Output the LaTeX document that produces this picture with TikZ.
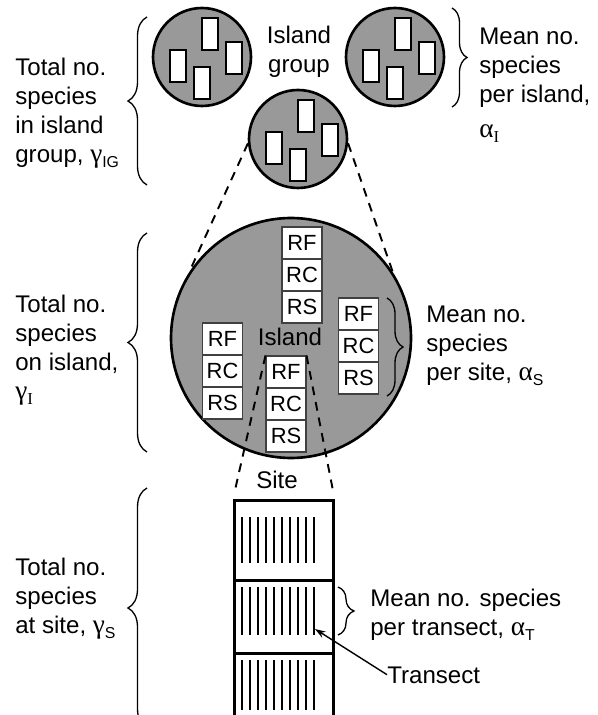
\documentclass[tikz,border=0pt]{standalone}
\usepackage{fontspec}
\setmainfont{Liberation Sans}
\newfontfamily\grk{Liberation Serif}
\usetikzlibrary{decorations.pathreplacing,arrows.meta}

% Greek letter with a small sans or serif subscript
\newcommand\gsub[2]{{\grk\fontsize{15.5}{16}\selectfont #1}\raisebox{-0.4ex}{\fontsize{9}{9}\selectfont #2}}
\newcommand\gsubrm[2]{{\grk\fontsize{15.5}{16}\selectfont #1}\raisebox{-0.4ex}{\grk\fontsize{9.5}{9}\selectfont #2}}

\tikzset{
  greyland/.style={circle, draw, line width=1.5pt, fill=black!40, inner sep=0pt},
  plot/.style={draw, line width=0.8pt, fill=white, minimum width=0.32cm,
               minimum height=0.64cm, inner sep=0pt},
  cellbox/.style={draw=black!75, line width=0.6pt, fill=white, minimum width=0.8cm,
                  minimum height=0.64cm, inner sep=0pt, font=\fontsize{12.5}{12}\selectfont},
  label/.style={align=left, anchor=north west, inner sep=0pt,
                font=\fontsize{13.7}{16.5}\selectfont},
  clabel/.style={align=center, inner sep=0pt, font=\fontsize{13.7}{16.5}\selectfont},
  bracket/.style={decorate, line width=0.75pt},
  zoomline/.style={dashed, line width=1.1pt, dash pattern=on 5pt off 4pt},
  transect/.style={line width=1.2pt},
  sitebox/.style={draw, line width=1.5pt, minimum width=1.98cm, inner sep=0pt},
}

\begin{document}
\begin{tikzpicture}[x=0.02cm, y=-0.02cm]
\clip (0,0) rectangle (597,715);

% ---- island group: three small islands with sampling plots ----
\foreach \n/\cx/\cy in {isA/202/57, isB/395/57, isC/298/139}{
  \node[greyland, minimum size=1.96cm] (\n) at (\cx,\cy) {};
  \node[plot] (\n p1) at (\cx-24,\cy+9) {};
  \node[plot] (\n p2) at (\cx+8,\cy-23) {};
  \node[plot] (\n p3) at (\cx+32,\cy+1) {};
  \node[plot] (\n p4) at (\cx,\cy+26) {};
}

\node[clabel] (grouplbl) at (299,52) {Island\\group};

% ---- enlarged island ----
\node[greyland, minimum size=4.8cm] (island) at (291,338) {};
\draw[zoomline] (isC.185) -- (island.147);
\draw[zoomline] (isC.355) -- (island.33);

\foreach \n/\cx/\top in {sa/302/227, sb/358.5/298, sc/222.5/323, sd/286/356}{
  \node[cellbox] (\n f) at (\cx,\top+16) {RF};
  \node[cellbox] (\n c) at (\cx,\top+48) {RC};
  \node[cellbox] (\n s) at (\cx,\top+80) {RS};
}
\node[clabel, anchor=base] (islandlbl) at (290,346) {Island};

% ---- one site: three transect groups ----
\node[sitebox, anchor=north west, minimum height=1.6cm] (site1) at (233,499) {};
\node[sitebox, anchor=north west, minimum height=1.46cm] (site2) at (233,579) {};
\node[sitebox, anchor=north west, minimum height=1.5cm] (site3) at (233,652) {};

\draw[zoomline, shorten >=6pt] (sdf.north west) -- (site1.north west);
\draw[zoomline, shorten >=6pt] (sdf.north east) -- (site1.north east);
\node[clabel, anchor=base] (sitelbl) at (277,488) {Site};

\foreach \i in {0,...,9}{
  \draw[transect] (242+8*\i,517) -- (242+8*\i,563);
  \draw[transect] (242+8*\i,587) -- (242+8*\i,635);
  \draw[transect] (242+8*\i,660) -- (242+8*\i,710);
}
\coordinate (tend) at (315,629);
\node[label, anchor=base west] (translbl) at (387,683) {Transect};
\draw[line width=0.8pt, -{Stealth[length=6pt,width=4pt]}] (translbl.west) ++(0,-0.15) -- (tend);

% ---- braces ----
\coordinate (b1a) at (147,185); \coordinate (b1b) at (147,17);
\coordinate (b2a) at (147,452); \coordinate (b2b) at (147,233);
\coordinate (b3a) at (147,728); \coordinate (b3b) at (147,488);
\coordinate (b4a) at (452,8);   \coordinate (b4b) at (452,107);
\coordinate (b5a) at (387,298); \coordinate (b5b) at (387,396);
\coordinate (b6a) at (338,587); \coordinate (b6b) at (338,635);
\draw[bracket, decoration={brace, amplitude=0.38cm}] (b1a) -- (b1b);
\draw[bracket, decoration={brace, amplitude=0.38cm}] (b2a) -- (b2b);
\draw[bracket, decoration={brace, amplitude=0.38cm}] (b3a) -- (b3b);
\draw[bracket, decoration={brace, amplitude=0.3cm}] (b4a) -- (b4b);
\draw[bracket, decoration={brace, amplitude=0.32cm}] (b5a) -- (b5b);
\draw[bracket, decoration={brace, amplitude=0.32cm}] (b6a) -- (b6b);

% ---- descriptive labels ----
\node[label] (gIG) at (15,58) {Total no.\\species\\in island\\group, \gsub{γ}{IG}};
\node[label] (gI) at (15,295) {Total no.\\species\\on island,\\\gsubrm{γ}{I}};
\node[label] (gS) at (15,558) {Total no.\\species\\at site, \gsub{γ}{S}};
\node[label] (aI) at (479,28) {Mean no.\\species\\per island,\\[3pt]\gsubrm{α}{I}};
\node[label] (aS) at (426,306) {Mean no.\\species\\per site, \gsub{α}{S}};
\node[label] (aT) at (370,589) {Mean no. species\\per transect, \gsub{α}{T}};
\end{tikzpicture}
\end{document}
